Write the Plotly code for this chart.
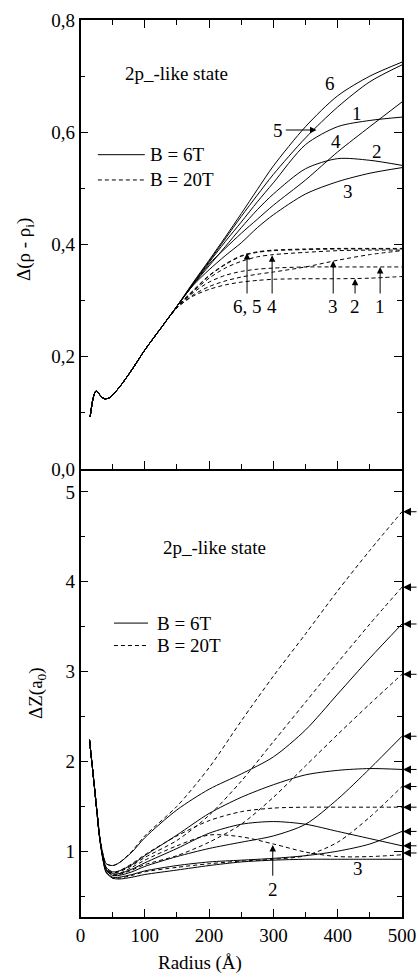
import plotly.graph_objects as go

# ---------------- data: top panel  Δ(ρ - ρi) vs radius ----------------
R_TOP = [15, 20, 24, 28, 33, 38, 45, 60, 80, 100, 125, 150, 175, 200, 225, 250, 275, 300, 350, 400, 450, 500]

TOP_6T_1 = [0.093, 0.128, 0.139, 0.135, 0.128, 0.125, 0.127, 0.145, 0.177, 0.212, 0.251, 0.29,
            0.33, 0.368, 0.405, 0.44, 0.476, 0.51, 0.578, 0.61, 0.621, 0.627]
TOP_6T_2 = [0.093, 0.128, 0.139, 0.135, 0.128, 0.125, 0.127, 0.145, 0.177, 0.212, 0.251, 0.29,
            0.328, 0.362, 0.396, 0.43, 0.462, 0.49, 0.535, 0.553, 0.55, 0.541]
TOP_6T_3 = [0.093, 0.128, 0.139, 0.135, 0.128, 0.125, 0.127, 0.145, 0.177, 0.212, 0.251, 0.29,
            0.327, 0.355, 0.38, 0.403, 0.43, 0.453, 0.49, 0.512, 0.527, 0.537]
TOP_6T_4 = [0.093, 0.128, 0.139, 0.135, 0.128, 0.125, 0.127, 0.145, 0.177, 0.212, 0.251, 0.29,
            0.328, 0.365, 0.393, 0.42, 0.445, 0.47, 0.515, 0.565, 0.61, 0.654]
TOP_6T_5 = [0.093, 0.128, 0.139, 0.135, 0.128, 0.125, 0.127, 0.145, 0.177, 0.212, 0.251, 0.29,
            0.331, 0.37, 0.41, 0.45, 0.488, 0.525, 0.59, 0.645, 0.69, 0.72]
TOP_6T_6 = [0.093, 0.128, 0.139, 0.135, 0.128, 0.125, 0.127, 0.145, 0.177, 0.212, 0.251, 0.29,
            0.332, 0.372, 0.413, 0.455, 0.498, 0.54, 0.61, 0.665, 0.7, 0.725]

TOP_20T_1 = [0.093, 0.128, 0.139, 0.135, 0.128, 0.125, 0.127, 0.145, 0.177, 0.212, 0.251, 0.288,
             0.314, 0.333, 0.345, 0.352, 0.356, 0.358, 0.36, 0.36, 0.36, 0.36]
TOP_20T_2 = [0.093, 0.128, 0.139, 0.135, 0.128, 0.125, 0.127, 0.145, 0.177, 0.212, 0.251, 0.287,
             0.308, 0.32, 0.328, 0.333, 0.336, 0.338, 0.339, 0.339, 0.34, 0.343]
TOP_20T_3 = [0.093, 0.128, 0.139, 0.135, 0.128, 0.125, 0.127, 0.145, 0.177, 0.212, 0.251, 0.287,
             0.31, 0.325, 0.335, 0.342, 0.347, 0.351, 0.36, 0.372, 0.382, 0.389]
TOP_20T_4 = [0.093, 0.128, 0.139, 0.135, 0.128, 0.125, 0.127, 0.145, 0.177, 0.212, 0.251, 0.288,
             0.316, 0.34, 0.358, 0.37, 0.378, 0.382, 0.386, 0.389, 0.39, 0.39]
TOP_20T_5 = [0.093, 0.128, 0.139, 0.135, 0.128, 0.125, 0.127, 0.145, 0.177, 0.212, 0.251, 0.289,
             0.317, 0.344, 0.364, 0.379, 0.386, 0.389, 0.391, 0.392, 0.392, 0.392]
TOP_20T_6 = [0.093, 0.128, 0.139, 0.135, 0.128, 0.125, 0.127, 0.145, 0.177, 0.212, 0.251, 0.289,
             0.318, 0.345, 0.365, 0.38, 0.387, 0.39, 0.392, 0.393, 0.393, 0.393]

# ---------------- data: bottom panel  ΔZ(a0) vs radius ----------------
R_BOT = [14, 20, 25, 30, 35, 40, 50, 60, 80, 100, 150, 200, 250, 300, 350, 400, 450, 500]

BOT_6T_A = [2.24, 1.83, 1.49, 1.16, 0.96, 0.86, 0.84, 0.87, 0.99, 1.15, 1.46, 1.69, 1.86, 2.05, 2.35, 2.75, 3.15, 3.53]
BOT_6T_B = [2.24, 1.83, 1.48, 1.15, 0.94, 0.82, 0.77, 0.78, 0.85, 0.95, 1.18, 1.42, 1.6, 1.74, 1.85, 1.9, 1.92, 1.91]
BOT_6T_C = [2.24, 1.83, 1.48, 1.14, 0.93, 0.8, 0.75, 0.75, 0.8, 0.87, 1.03, 1.2, 1.3, 1.33, 1.3, 1.22, 1.14, 1.06]
BOT_6T_D = [2.24, 1.83, 1.48, 1.14, 0.92, 0.79, 0.73, 0.73, 0.77, 0.83, 0.94, 1.03, 1.1, 1.17, 1.3, 1.58, 1.92, 2.28]
BOT_6T_E = [2.24, 1.83, 1.48, 1.13, 0.91, 0.77, 0.71, 0.71, 0.74, 0.78, 0.84, 0.88, 0.9, 0.92, 0.95, 1.0, 1.08, 1.22]
BOT_6T_F = [2.24, 1.83, 1.47, 1.13, 0.9, 0.76, 0.7, 0.69, 0.71, 0.74, 0.79, 0.84, 0.88, 0.9, 0.91, 0.91, 0.91, 0.91]

BOT_20T_A = [2.24, 1.83, 1.49, 1.16, 0.97, 0.86, 0.84, 0.87, 1.0, 1.17, 1.5, 1.93, 2.45, 2.95, 3.42, 3.9, 4.35, 4.78]
BOT_20T_B = [2.24, 1.83, 1.48, 1.15, 0.94, 0.81, 0.76, 0.77, 0.84, 0.93, 1.12, 1.4, 1.78, 2.22, 2.66, 3.1, 3.53, 3.94]
BOT_20T_C = [2.24, 1.83, 1.48, 1.14, 0.92, 0.79, 0.73, 0.74, 0.79, 0.85, 0.95, 1.1, 1.3, 1.6, 1.95, 2.3, 2.64, 2.97]
BOT_20T_D = [2.24, 1.83, 1.47, 1.13, 0.91, 0.77, 0.7, 0.7, 0.73, 0.77, 0.82, 0.86, 0.89, 0.91, 0.95, 1.1, 1.38, 1.72]
BOT_20T_E = [2.24, 1.83, 1.48, 1.14, 0.93, 0.8, 0.74, 0.75, 0.82, 0.9, 1.06, 1.18, 1.16, 1.08, 0.99, 0.94, 0.94, 0.96]
BOT_20T_F = [2.24, 1.83, 1.48, 1.15, 0.94, 0.81, 0.76, 0.78, 0.86, 0.96, 1.17, 1.34, 1.44, 1.48, 1.49, 1.49, 1.49, 1.49]

# right-edge arrow targets (ΔZ at R = 500 Å)
BOT_END_ARROWS = [4.78, 3.94, 3.53, 2.97, 2.28, 1.91, 1.72, 1.49, 1.22, 1.06, 0.98]

# top-panel arrow labels for the 20 T curves: (label, radius, value at tip)
TOP_20T_LABELS = ["6, 5", "4", "3", "2", "1"]
TOP_20T_LABEL_R = [259, 298, 393, 427, 466]
TOP_20T_LABEL_V = [0.385, 0.381, 0.371, 0.339, 0.36]

# tick labels
X_TICKS = [0, 100, 200, 300, 400, 500]
X_TICK_TEXT = ["0", "100", "200", "300", "400", "500"]
Y_TOP_TICKS = [0.0, 0.2, 0.4, 0.6, 0.8]
Y_TOP_TICK_TEXT = ["0,0", "0,2", "0,4", "0,6", "0,8"]
Y_BOT_TICKS = [1, 2, 3, 4, 5]
Y_BOT_TICK_TEXT = ["1", "2", "3", "4", "5"]

FONT = "Liberation Serif, Times New Roman, DejaVu Serif, serif"
FS = 19
SOLID = dict(color="black", width=1.0)
DASHED = dict(color="black", width=1.0, dash="4px,3px")

fig = go.Figure()

for ys in [TOP_6T_1, TOP_6T_2, TOP_6T_3, TOP_6T_4, TOP_6T_5, TOP_6T_6]:
    fig.add_trace(go.Scatter(x=R_TOP, y=ys, mode="lines", line=dict(SOLID, shape="spline", smoothing=0.8),
                             xaxis="x", yaxis="y", showlegend=False, hoverinfo="skip"))
for ys in [TOP_20T_1, TOP_20T_2, TOP_20T_3, TOP_20T_4, TOP_20T_5, TOP_20T_6]:
    fig.add_trace(go.Scatter(x=R_TOP, y=ys, mode="lines", line=dict(DASHED, shape="spline", smoothing=0.8),
                             xaxis="x", yaxis="y", showlegend=False, hoverinfo="skip"))
for ys in [BOT_6T_A, BOT_6T_B, BOT_6T_C, BOT_6T_D, BOT_6T_E, BOT_6T_F]:
    fig.add_trace(go.Scatter(x=R_BOT, y=ys, mode="lines", line=dict(SOLID, shape="spline", smoothing=0.8),
                             xaxis="x2", yaxis="y2", showlegend=False, hoverinfo="skip"))
for ys in [BOT_20T_A, BOT_20T_B, BOT_20T_C, BOT_20T_D, BOT_20T_E, BOT_20T_F]:
    fig.add_trace(go.Scatter(x=R_BOT, y=ys, mode="lines", line=dict(DASHED, shape="spline", smoothing=0.8),
                             xaxis="x2", yaxis="y2", showlegend=False, hoverinfo="skip"))

W, H = 418, 979
XD = [80.5 / W, 402 / W]
YD_TOP = [(H - 469) / H, (H - 20) / H]
YD_BOT = [(H - 917) / H, (H - 469) / H]

axis_common = dict(showline=True, linecolor="black", linewidth=1.5, mirror="allticks",
                   ticks="inside", ticklen=8, tickwidth=1.2, tickcolor="black",
                   showgrid=False, zeroline=False, automargin=False,
                   tickfont=dict(family=FONT, size=FS, color="black"))

fig.update_layout(
    template="none",
    width=W, height=H, margin=dict(l=0, r=0, t=0, b=0, autoexpand=False),
    paper_bgcolor="white", plot_bgcolor="white",
    font=dict(family=FONT, size=FS, color="black"),
    xaxis=dict(axis_common, domain=XD, anchor="y", range=[0, 500], tickvals=X_TICKS,
               showticklabels=False,
               minor=dict(ticks="inside", ticklen=5, tickwidth=1, tickcolor="black", dtick=50, tick0=0)),
    yaxis=dict(axis_common, domain=YD_TOP, anchor="x", range=[0, 0.8], tickvals=Y_TOP_TICKS,
               ticktext=Y_TOP_TICK_TEXT,
               minor=dict(ticks="inside", ticklen=5, tickwidth=1, tickcolor="black", dtick=0.1, tick0=0)),
    xaxis2=dict(axis_common, domain=XD, anchor="y2", range=[0, 500], tickvals=X_TICKS,
                ticktext=X_TICK_TEXT, mirror=False,
                minor=dict(ticks="inside", ticklen=5, tickwidth=1, tickcolor="black", dtick=50, tick0=0)),
    yaxis2=dict(axis_common, domain=YD_BOT, anchor="x2", range=[0.267, 5.256], tickvals=Y_BOT_TICKS,
                ticktext=Y_BOT_TICK_TEXT,
                minor=dict(ticks="inside", ticklen=5, tickwidth=1, tickcolor="black", dtick=0.5, tick0=0)),
)

ann = []
def txt(x, y, s, xref="x", yref="y", xanchor="center", yanchor="middle", size=FS, **kw):
    ann.append(dict(x=x, y=y, xref=xref, yref=yref, text=s, showarrow=False, xanchor=xanchor,
                    yanchor=yanchor, font=dict(family=FONT, size=size, color="black"), **kw))

def arrow(x, y, ax, ay, xref="x", yref="y"):
    ann.append(dict(x=x, y=y, ax=ax, ay=ay, xref=xref, yref=yref, axref=xref, ayref=yref,
                    text="", showarrow=True, arrowhead=2, arrowsize=1.3, arrowwidth=1,
                    arrowcolor="black", standoff=0, startstandoff=0))

# ---- top panel text ----
txt(149, 0.704, "2p_-like state")
txt(105, 0.56, "B = 6T", xanchor="left")
txt(105, 0.515, "B = 20T", xanchor="left")
txt(388, 0.686, "6")
txt(430, 0.633, "1")
txt(307, 0.604, "5")
arrow(367, 0.604, 317, 0.604)
txt(398, 0.583, "4")
txt(461, 0.565, "2")
txt(416, 0.494, "3")
for lab, r, v in zip(TOP_20T_LABELS, TOP_20T_LABEL_R, TOP_20T_LABEL_V):
    arrow(r, v, r, 0.31)
    txt(r, 0.29, lab)

# ---- bottom panel text ----
txt(209, 4.38, "2p_-like state", xref="x2", yref="y2")
txt(116, 3.54, "B = 6T", xref="x2", yref="y2", xanchor="left")
txt(116, 3.29, "B = 20T", xref="x2", yref="y2", xanchor="left")
arrow(299, 1.07, 299, 0.71, xref="x2", yref="y2")
txt(299, 0.57, "2", xref="x2", yref="y2")
txt(432, 0.81, "3", xref="x2", yref="y2")
for v in BOT_END_ARROWS:
    ann.append(dict(x=403 / W, y=v, xref="paper", yref="y2", ax=16, ay=0,
                    text="", showarrow=True, arrowhead=2, arrowsize=1.6, arrowwidth=1,
                    arrowcolor="black", standoff=0, startstandoff=0))

# ---- axis titles ----
txt(25 / W, 1 - 250 / H, "Δ(ρ - ρ<sub>i</sub>)", xref="paper", yref="paper", textangle=-90)
txt(37 / W, 1 - 693 / H, "ΔZ(a<sub>0</sub>)", xref="paper", yref="paper", textangle=-90)
txt(200 / W, 1 - 963 / H, "Radius (Å)", xref="paper", yref="paper")

fig.update_layout(annotations=ann)

# legend sample lines
shapes = [
    dict(type="line", xref="x", yref="y", x0=27, x1=100, y0=0.56, y1=0.56, line=dict(color="black", width=1)),
    dict(type="line", xref="x", yref="y", x0=27, x1=100, y0=0.515, y1=0.515, line=dict(color="black", width=1, dash="4px,3px")),
    dict(type="line", xref="x2", yref="y2", x0=52, x1=105, y0=3.54, y1=3.54, line=dict(color="black", width=1)),
    dict(type="line", xref="x2", yref="y2", x0=52, x1=105, y0=3.29, y1=3.29, line=dict(color="black", width=1, dash="4px,3px")),
]
fig.update_layout(shapes=shapes)

fig.write_html("out.html")
